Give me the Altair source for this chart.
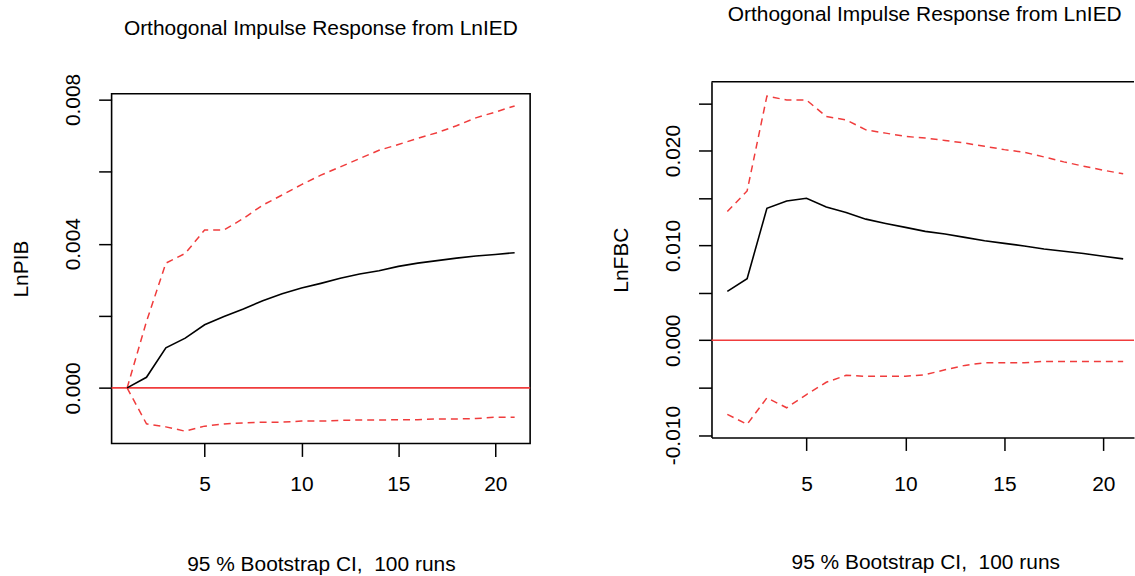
import json

import altair as alt
import pandas as pd

# Orthogonal impulse responses to a shock in LnIED (21 horizons, 95 % bootstrap bands)
STEPS = list(range(1, 22))

PIB_IRF = [0.0, 0.000295, 0.00111, 0.00138, 0.00175, 0.00198, 0.00219, 0.00242,
           0.00261, 0.00277, 0.0029, 0.00304, 0.00316, 0.00325, 0.00337, 0.00346,
           0.00353, 0.0036, 0.00366, 0.0037, 0.00375]
PIB_UPPER = [0.0, 0.00184, 0.00346, 0.00373, 0.00438, 0.00438, 0.0047, 0.00507,
             0.00535, 0.00564, 0.0059, 0.00613, 0.00636, 0.00659, 0.00675, 0.00692,
             0.00708, 0.00727, 0.00749, 0.00765, 0.00782]
PIB_LOWER = [0.0, -0.000996, -0.00108, -0.0012, -0.00106, -0.001, -0.00097, -0.00095,
             -0.00095, -0.00092, -0.00092, -0.0009, -0.00089, -0.00089, -0.00088,
             -0.00088, -0.00086, -0.00086, -0.00085, -0.00081, -0.00081]

FBC_IRF = [0.00516, 0.00649, 0.01392, 0.01469, 0.01497, 0.01406, 0.01347, 0.01277,
           0.01232, 0.0119, 0.01148, 0.0112, 0.01085, 0.0105, 0.01022, 0.00994,
           0.00963, 0.00939, 0.00914, 0.00886, 0.00858]
FBC_UPPER = [0.01357, 0.01574, 0.02575, 0.02533, 0.02533, 0.02359, 0.02324, 0.02219,
             0.02184, 0.02149, 0.02132, 0.02107, 0.02079, 0.02045, 0.0201, 0.01982,
             0.01933, 0.01881, 0.01835, 0.01793, 0.01755]
FBC_LOWER = [-0.00782, -0.00886, -0.00607, -0.00712, -0.00572, -0.00443, -0.0037,
             -0.0038, -0.0038, -0.0038, -0.00363, -0.00311, -0.00265, -0.00237,
             -0.00237, -0.00237, -0.00223, -0.00223, -0.00223, -0.00223, -0.00223]

X_TICKS = [5, 10, 15, 20]
PIB_Y_TICKS = [0.0, 0.002, 0.004, 0.006, 0.008]
PIB_Y_LABELS = ["0.000", "0.004", "0.008"]
FBC_Y_TICKS = [-0.01, -0.005, 0.0, 0.005, 0.01, 0.015, 0.02, 0.025]
FBC_Y_LABELS = ["-0.010", "0.000", "0.010", "0.020"]

TITLE = "Orthogonal Impulse Response from LnIED"
X_TITLE = "95 % Bootstrap CI,\u00a0 100 runs"

FONT = "Liberation Sans"
FS = 21
RED = "#f03c3c"
MINUS = "\u2212"
LW = 1.6


def label_expr(shown):
    txt = f"replace(datum.label, '{MINUS}', '-')"
    return f"indexof({json.dumps(shown)}, {txt}) >= 0 ? {txt} : ''"


def panel(ylabel, irf, lower, upper, y_domain, y_ticks, y_shown,
          width, height, x_max, x_label_pad, x_title_x, x_title_y,
          title_offset, title_dx, open_right):
    df = pd.DataFrame({"step": STEPS, "irf": irf, "lower": lower, "upper": upper})

    x = alt.X(
        "step:Q",
        scale=alt.Scale(domain=[0.2, x_max], nice=False, zero=False),
        axis=alt.Axis(
            values=X_TICKS, format="d", grid=False,
            domain=open_right, domainColor="black", domainWidth=LW,
            tickColor="black", tickWidth=1.5, tickSize=13,
            labelFont=FONT, labelFontSize=FS, labelColor="black",
            labelPadding=x_label_pad, labelBaseline="top", labelFlush=False,
            title=X_TITLE, titleFont=FONT, titleFontSize=FS,
            titleFontWeight="normal", titleColor="black",
            titleX=x_title_x, titleY=x_title_y, titleAlign="center",
            titleBaseline="alphabetic",
        ),
    )
    yscale = alt.Scale(domain=y_domain, nice=False, zero=False)
    yaxis = alt.Axis(
        values=y_ticks, format=".3f", labelExpr=label_expr(y_shown),
        grid=False, domain=open_right, domainColor="black", domainWidth=LW,
        tickColor="black", tickWidth=1.5, tickSize=13,
        labelFont=FONT, labelFontSize=FS, labelColor="black",
        labelAngle=-90, labelAlign="center", labelBaseline="alphabetic",
        labelPadding=19, labelFlush=False, labelOverlap=False,
        title=ylabel, titleFont=FONT, titleFontSize=FS,
        titleFontWeight="normal", titleColor="black",
        titleAngle=270, titleAlign="center", titleBaseline="alphabetic",
        titleX=-84, titleY=height / 2,
    )

    base = alt.Chart(df)
    zero = alt.Chart(pd.DataFrame({"v": [0.0]})).mark_rule(
        color=RED, strokeWidth=LW
    ).encode(y=alt.Y("v:Q", scale=yscale, axis=yaxis))
    bands = base.transform_fold(["lower", "upper"], as_=["bound", "val"]).mark_line(
        color=RED, strokeDash=[7, 5], strokeWidth=1.5
    ).encode(x=x, y=alt.Y("val:Q", scale=yscale, axis=yaxis), detail="bound:N")
    mid = base.mark_line(color="black", strokeWidth=LW).encode(
        x=x, y=alt.Y("irf:Q", scale=yscale, axis=yaxis)
    )
    layers = [zero, bands, mid]
    if open_right:
        # frame runs off the right edge: left and bottom come from the axis
        # domains, the top edge is a plain rule
        layers.append(
            alt.Chart(pd.DataFrame({"v": [0]})).mark_rule(color="black", strokeWidth=LW)
            .encode(y=alt.value(0), x=alt.value(0), x2=alt.value(width))
        )
        view = alt.ViewBackground(stroke=None)
    else:
        view = alt.ViewBackground(stroke="black", strokeWidth=LW)

    return alt.layer(*layers).properties(
        width=width, height=height, view=view,
        title=alt.TitleParams(TITLE, font=FONT, fontSize=FS, fontWeight="normal",
                              color="black", offset=title_offset, anchor="middle",
                              dx=title_dx),
    )


def strip(h):
    # blank strip above a panel; its height sets how far down the panel starts
    return alt.Chart(pd.DataFrame({"v": [0]})).mark_rule(opacity=0).encode(
        x=alt.value(0), y=alt.value(0), y2=alt.value(h)
    ).properties(width=1, height=h, view=alt.ViewBackground(stroke=None))


left = panel("LnPIB", PIB_IRF, PIB_LOWER, PIB_UPPER, [-0.00154, 0.00816],
             PIB_Y_TICKS, PIB_Y_LABELS, 420, 351, 21.8, 17, 210, 127, 34, 0, False)
# 19.86 px per step; the panel is cut at the page edge a little before step 21.8
right = panel("LnFBC", FBC_IRF, FBC_LOWER, FBC_UPPER, [-0.01025, 0.02726],
              FBC_Y_TICKS, FBC_Y_LABELS, 424, 357, 21.548, 23, 214.5, 131, 56, 2, True)

chart = alt.hconcat(
    alt.vconcat(strip(14), left, spacing=0),
    alt.vconcat(strip(1), right, spacing=0),
    spacing=79,
).properties(
    padding={"left": 10, "top": 2, "right": 0, "bottom": 0},
    background="white",
).configure(font=FONT)

chart.save("out.html", embed_options={"renderer": "svg", "actions": False})
